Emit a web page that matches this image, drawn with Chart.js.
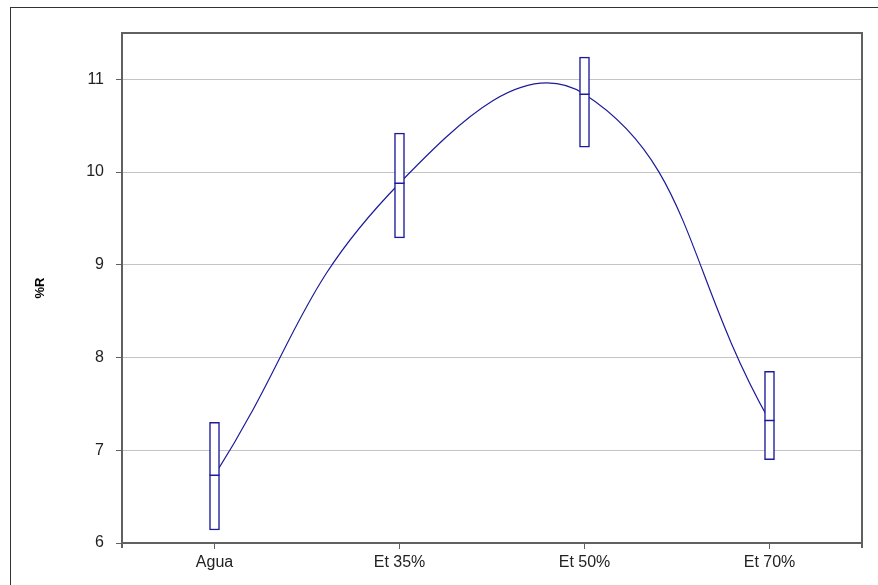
<!DOCTYPE html>
<html>
<head>
<meta charset="utf-8">
<script src="https://cdn.jsdelivr.net/npm/chart.js@4.4.1/dist/chart.umd.min.js"></script>
<style>
    html, body { margin: 0; padding: 0; background: #fff; }
    #wrap { width: 878px; height: 585px; position: relative; }
</style>
</head>
<body>
<div id="wrap"><canvas id="chart" width="878" height="585"></canvas></div>
<script>
const categories = ['Agua', 'Et 35%', 'Et 50%', 'Et 70%'];
const boxLow = [6.14, 9.29, 10.27, 6.90];
const boxHigh = [7.30, 10.42, 11.24, 7.85];
const meanValues = [6.73, 9.88, 10.84, 7.32];
const yTicks = [6, 7, 8, 9, 10, 11];
const yTitle = '%R';

const navy = '#1c1c9a';
const axisGray = '#606060';

// plot frame, outer border and the rotated axis title
const framePlugin = {
    id: 'frame',
    beforeDraw(chart) {
        const ctx = chart.ctx;
        ctx.save();
        ctx.fillStyle = '#fff';
        ctx.fillRect(0, 0, chart.width, chart.height);
        ctx.strokeStyle = '#333';
        ctx.lineWidth = 1;
        ctx.strokeRect(10.5, 7.5, 2000, 2000);
        ctx.restore();
    },
    afterDatasetsDraw(chart) {
        const { ctx, chartArea: a } = chart;
        ctx.save();
        ctx.strokeStyle = axisGray;
        ctx.lineWidth = 2;
        ctx.beginPath();
        ctx.moveTo(a.left, a.bottom + 5);
        ctx.lineTo(a.left, a.top);
        ctx.lineTo(a.right, a.top);
        ctx.lineTo(a.right, a.bottom + 5);
        ctx.moveTo(a.left, a.bottom);
        ctx.lineTo(a.right, a.bottom);
        ctx.stroke();

        ctx.translate(40, (a.top + a.bottom) / 2);
        ctx.rotate(-Math.PI / 2);
        ctx.fillStyle = '#000';
        ctx.font = 'bold 13px "Liberation Sans"';
        ctx.textAlign = 'center';
        ctx.textBaseline = 'middle';
        ctx.fillText(yTitle, 0, 0);
        ctx.restore();
    }
};

new Chart(document.getElementById('chart'), {
    data: {
        labels: categories,
        datasets: [
            {
                type: 'scatter',
                data: meanValues.map((v, i) => ({ x: categories[i], y: v })),
                pointStyle: 'line',
                pointRadius: 5,
                pointBorderWidth: 1.5,
                borderColor: navy,
                showLine: false,
                order: -1
            },
            {
                type: 'bar',
                data: boxLow.map((v, i) => [v, boxHigh[i]]),
                backgroundColor: '#fff',
                borderColor: navy,
                borderWidth: 1.5,
                borderSkipped: false,
                barThickness: 10,
                order: 0
            },
            {
                type: 'line',
                data: meanValues,
                borderColor: navy,
                borderWidth: 1.2,
                pointRadius: 0,
                tension: 0.45,
                order: 1
            }
        ]
    },
    plugins: [framePlugin],
    options: {
        responsive: false,
        animation: false,
        layout: { padding: { top: 33, right: 16, bottom: 0, left: 0 } },
        plugins: {
            legend: { display: false },
            tooltip: { enabled: false }
        },
        scales: {
            x: {
                type: 'category',
                offset: true,
                border: { display: false },
                grid: {
                    offset: false,
                    drawOnChartArea: false,
                    tickLength: 6,
                    tickColor: axisGray,
                    tickWidth: 1
                },
                ticks: {
                    color: '#222',
                    font: { family: 'Liberation Sans', size: 16 },
                    padding: 4
                },
                afterFit(scale) { scale.height = 42; }
            },
            y: {
                min: 6,
                max: 11.5,
                border: { display: false },
                afterBuildTicks(scale) { scale.ticks = yTicks.map((v) => ({ value: v })); },
                grid: {
                    color: '#c4c4c4',
                    lineWidth: 1,
                    tickLength: 6,
                    tickColor: axisGray
                },
                ticks: {
                    color: '#222',
                    font: { family: 'Liberation Sans', size: 16 },
                    padding: 12
                },
                afterFit(scale) { scale.width = 122; }
            }
        }
    }
});
</script>
</body>
</html>
